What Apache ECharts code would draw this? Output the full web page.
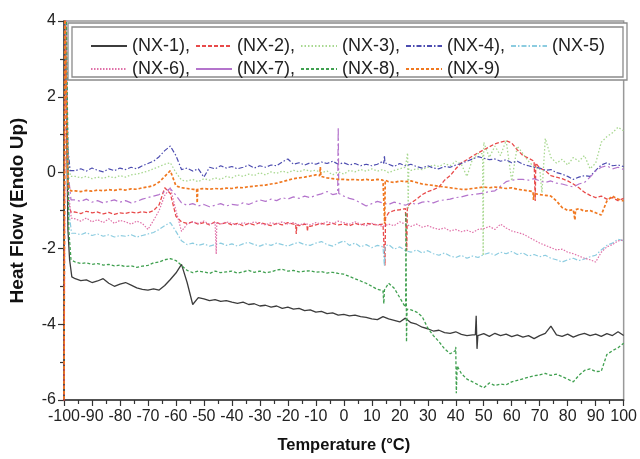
<!DOCTYPE html>
<html>
<head>
<meta charset="utf-8">
<script src="https://cdn.jsdelivr.net/npm/echarts@6/dist/echarts.min.js"></script>
<style>
  html, body { margin: 0; padding: 0; background: #fff; }
  #chart { width: 640px; height: 459px; }
</style>
</head>
<body>
<div id="chart"></div>
<script>
// DSC heat-flow curves, sampled every 2 °C from -96 °C to 100 °C.
const T_START = -96;
const T_STEP = 2;

const seriesNames = ['(NX-1)', '(NX-2)', '(NX-3)', '(NX-4)', '(NX-5)', '(NX-6)', '(NX-7)', '(NX-8)', '(NX-9)'];
const xTicks = [-100, 100, 10];
const yTicks = [-6, 4, 2];

// ---- NX-1 ----
const nx1Lead = [[-99.6, 4.5], [-98.6, -1.5], [-98.0, -2.3], [-97.2, -2.75]];
const nx1Base = [
  -2.80, -2.85, -2.83, -2.90, -2.86, -2.80, -2.92, -3.00, -2.94, -2.90,
  -2.97, -3.04, -3.08, -3.10, -3.07, -3.10, -2.98, -2.82, -2.65, -2.42,
  -2.90, -3.48, -3.30, -3.33, -3.38, -3.35, -3.40, -3.38, -3.42, -3.45,
  -3.42, -3.48, -3.46, -3.52, -3.50, -3.55, -3.52, -3.58, -3.55, -3.60,
  -3.58, -3.64, -3.62, -3.68, -3.66, -3.72, -3.70, -3.76, -3.74, -3.78,
  -3.76, -3.80, -3.82, -3.86, -3.88, -3.80, -3.86, -3.90, -3.94, -3.84,
  -3.96, -4.00, -4.08, -4.12, -4.18, -4.16, -4.22, -4.24, -4.20, -4.27,
  -4.30, -4.28, -4.30, -4.25, -4.32, -4.24, -4.30, -4.26, -4.33, -4.28,
  -4.34, -4.30, -4.38, -4.30, -4.24, -4.05, -4.28, -4.32, -4.26, -4.34,
  -4.28, -4.24, -4.30, -4.26, -4.32, -4.25, -4.30, -4.20, -4.30
];
const nx1Spikes = [[47.0, -4.28], [47.3, -3.78], [47.6, -4.65], [47.9, -4.30]];

// ---- NX-2 ----
const nx2Lead = [[-100, -6.5], [-99.5, 4.5], [-98.5, -0.8], [-97.5, -1.04]];
const nx2Base = [
  -1.04, -1.08, -1.02, -1.06, -1.04, -1.09, -1.05, -1.10, -1.06, -1.08,
  -1.04, -1.07, -1.03, -1.06, -1.00, -0.85, -0.40, -0.55, -1.15, -1.30,
  -1.34, -1.30, -1.36, -1.32, -1.38, -1.30, -1.36, -1.32, -1.38, -1.34,
  -1.40, -1.34, -1.38, -1.32, -1.36, -1.40, -1.34, -1.38, -1.32, -1.36,
  -1.40, -1.36, -1.42, -1.38, -1.34, -1.38, -1.34, -1.38, -1.36, -1.40,
  -1.34, -1.38, -1.34, -1.36, -1.38, -1.36, -1.06, -1.00, -0.98, -0.95,
  -0.80, -0.70, -0.58, -0.50, -0.45, -0.38, -0.20, -0.08, 0.10, 0.26,
  0.34, 0.44, 0.52, 0.60, 0.68, 0.76, 0.80, 0.84, 0.78, 0.60,
  0.45, 0.38, 0.30, 0.12, 0.05, -0.08, -0.12, -0.16, -0.22, -0.30,
  -0.40, -0.52, -0.60, -0.66, -0.62, -0.70, -0.66, -0.74, -0.68
];
const nx2Spikes = [
  [-17.2, -1.36], [-17.0, -1.62], [-16.8, -1.38],
  [-13.2, -1.38], [-13.0, -1.55], [-12.8, -1.40],
  [14.5, -1.36], [14.7, -2.45], [14.9, -1.20],
  [22.3, -0.95], [22.5, -2.06], [22.7, -0.90],
  [68.2, 0.32], [68.4, -0.75], [68.6, 0.25]
];

// ---- NX-3 ----
const nx3Lead = [[-99.7, 4.5], [-98.7, 0.5], [-97.7, -0.1]];
const nx3Base = [
  -0.10, -0.14, -0.10, -0.16, -0.12, -0.15, -0.10, -0.14, -0.08, -0.12,
  -0.06, -0.04, 0.00, 0.04, 0.10, 0.16, 0.22, 0.26, 0.00, -0.20,
  -0.22, -0.18, -0.24, -0.16, -0.20, -0.14, -0.18, -0.10, -0.14, -0.06,
  -0.10, -0.04, -0.08, 0.00, -0.06, 0.02, -0.02, 0.04, 0.00, 0.06,
  0.02, 0.08, 0.04, 0.06, 0.00, 0.04, -0.06, 0.02, -0.04, 0.06,
  0.02, 0.08, 0.04, 0.10, 0.04, 0.08, 0.00, 0.06, 0.10, 0.14,
  0.06, 0.10, 0.08, 0.14, 0.20, 0.16, 0.24, 0.18, 0.30, 0.22,
  -0.10, 0.36, 0.50, 0.80, 0.40, 0.70, 0.45, 0.85, -0.22, 0.70,
  0.50, 0.30, 0.15, 0.10, 0.90, 0.40, 0.25, 0.35, 0.20, 0.40,
  0.30, 0.45, 0.10, 0.25, 0.80, 0.95, 1.05, 1.20, 1.10
];
const nx3Spikes = [
  [22.7, 0.14], [22.8, 0.52], [23.0, -0.97], [23.2, 0.10],
  [49.6, 0.50], [49.8, -2.19], [50.0, 0.80],
  [70.8, -0.53]
];

// ---- NX-4 ----
const nx4Lead = [[-99.8, 4.5], [-98.8, 0.8], [-97.8, 0.05]];
const nx4Base = [
  0.05, 0.10, 0.04, 0.12, 0.06, 0.02, 0.10, 0.05, 0.12, 0.08,
  0.14, 0.10, 0.18, 0.24, 0.30, 0.42, 0.58, 0.70, 0.45, 0.08,
  0.12, 0.04, 0.10, -0.12, 0.14, 0.10, 0.18, 0.12, 0.16, 0.10,
  0.14, 0.20, 0.12, 0.18, 0.14, 0.20, 0.18, 0.28, 0.36, 0.22,
  0.26, 0.20, 0.26, 0.22, 0.28, 0.24, 0.30, 0.22, 0.26, 0.20,
  0.24, 0.18, 0.22, 0.18, 0.22, 0.30, 0.22, 0.16, 0.24, 0.18,
  0.22, 0.16, 0.12, 0.18, 0.12, 0.10, 0.16, 0.14, 0.20, 0.24,
  0.30, 0.36, 0.42, 0.38, 0.34, 0.36, 0.30, 0.34, 0.26, 0.30,
  0.22, 0.18, 0.14, 0.12, 0.06, 0.08, 0.00, -0.04, -0.10, -0.18,
  -0.12, -0.08, -0.10, 0.06, 0.20, 0.26, 0.18, 0.20, 0.16
];
const nx4Spikes = [[14.3, 0.24], [14.5, 0.45], [14.7, 0.26]];

// ---- NX-5 ----
const nx5Lead = [[-99.3, 4.5], [-98.3, -1.0], [-97.3, -1.6]];
const nx5Base = [
  -1.60, -1.64, -1.58, -1.66, -1.62, -1.68, -1.64, -1.70, -1.66, -1.68,
  -1.64, -1.70, -1.66, -1.62, -1.58, -1.50, -1.40, -1.32, -1.55, -1.80,
  -1.90, -1.86, -1.92, -1.88, -1.94, -1.90, -1.86, -1.92, -1.88, -1.94,
  -1.88, -1.84, -1.90, -1.94, -1.88, -1.92, -1.86, -1.90, -1.94, -1.88,
  -1.84, -1.90, -1.92, -1.86, -1.82, -1.90, -1.94, -1.86, -1.80, -1.92,
  -1.86, -1.96, -1.90, -1.98, -1.92, -1.96, -1.90, -2.02, -1.96, -2.06,
  -2.10, -2.04, -2.12, -2.06, -2.14, -2.18, -2.12, -2.20, -2.24, -2.18,
  -2.26, -2.20, -2.24, -2.16, -2.12, -2.18, -2.10, -2.14, -2.08, -2.16,
  -2.12, -2.20, -2.16, -2.22, -2.18, -2.26, -2.30, -2.36, -2.30, -2.26,
  -2.32, -2.28, -2.22, -2.18, -2.04, -1.92, -1.86, -1.76, -1.80
];
const nx5Spikes = [[14.3, -1.96], [14.5, -2.46], [14.7, -1.94]];

// ---- NX-6 ----
const nx6Lead = [[-99.4, 4.5], [-98.4, -0.5], [-97.4, -1.2]];
const nx6Base = [
  -1.22, -1.28, -1.20, -1.30, -1.24, -1.32, -1.22, -1.34, -1.26, -1.30,
  -1.36, -1.28, -1.34, -1.50, -1.26, -1.00, -0.60, -0.40, -1.00, -1.55,
  -1.36, -1.30, -1.34, -1.28, -1.36, -1.32, -1.36, -1.30, -1.34, -1.38,
  -1.32, -1.36, -1.30, -1.34, -1.38, -1.32, -1.36, -1.30, -1.36, -1.32,
  -1.38, -1.34, -1.38, -1.32, -1.36, -1.30, -1.34, -1.28, -1.32, -1.36,
  -1.30, -1.36, -1.40, -1.34, -1.38, -1.42, -1.36, -1.40, -1.30, -1.36,
  -1.42, -1.36, -1.44, -1.40, -1.46, -1.50, -1.46, -1.54, -1.50, -1.56,
  -1.52, -1.58, -1.50, -1.48, -1.42, -1.50, -1.36, -1.46, -1.54, -1.58,
  -1.62, -1.70, -1.78, -1.86, -1.92, -1.98, -2.04, -2.02, -2.10, -2.14,
  -2.20, -2.26, -2.30, -2.36, -2.10, -1.96, -1.90, -1.80, -1.78
];
const nx6Spikes = [[-45.8, -1.32], [-45.6, -2.15], [-45.4, -1.32]];

// ---- NX-7 ----
const nx7Lead = [[-99.5, 4.5], [-98.5, 0.0], [-97.5, -0.72]];
const nx7Base = [
  -0.72, -0.76, -0.70, -0.78, -0.74, -0.80, -0.76, -0.72, -0.78, -0.74,
  -0.80, -0.76, -0.70, -0.66, -0.62, -0.58, -0.50, -0.42, -0.60, -0.80,
  -0.86, -0.82, -0.88, -0.84, -0.90, -0.86, -0.82, -0.88, -0.84, -0.86,
  -0.80, -0.84, -0.78, -0.72, -0.76, -0.70, -0.74, -0.66, -0.70, -0.64,
  -0.68, -0.62, -0.66, -0.60, -0.56, -0.50, -0.58, -0.55, -0.62, -0.68,
  -0.72, -0.80, -0.88, -0.82, -0.76, -0.80, -0.84, -0.78, -0.82, -0.86,
  -0.80, -0.84, -0.78, -0.76, -0.80, -0.74, -0.72, -0.70, -0.66, -0.64,
  -0.60, -0.58, -0.56, -0.54, -0.50, -0.48, -0.36, -0.24, -0.20, -0.18,
  -0.18, -0.20, -0.16, -0.22, -0.26, -0.22, -0.28, -0.30, -0.34, -0.38,
  -0.30, -0.26, -0.12, 0.04, 0.14, 0.18, 0.10, 0.14, 0.08
];
const nx7Spikes = [[-2.2, -0.55], [-2.0, 1.20], [-1.8, -0.55]];

// ---- NX-8 ----
const nx8Lead = [[-99.2, 4.5], [-98.3, -1.5], [-97.5, -2.3]];
const nx8Base = [
  -2.36, -2.40, -2.38, -2.42, -2.40, -2.44, -2.42, -2.46, -2.44, -2.48,
  -2.46, -2.50, -2.47, -2.45, -2.38, -2.36, -2.30, -2.27, -2.32, -2.45,
  -2.58, -2.64, -2.60, -2.62, -2.66, -2.60, -2.64, -2.62, -2.60, -2.65,
  -2.62, -2.58, -2.63, -2.60, -2.64, -2.62, -2.57, -2.55, -2.60, -2.58,
  -2.62, -2.60, -2.59, -2.63, -2.61, -2.65, -2.63, -2.66, -2.68, -2.74,
  -2.80, -2.86, -2.92, -3.00, -3.08, -3.12, -2.92, -3.05, -3.30, -3.55,
  -3.62, -3.68, -3.80, -4.10, -4.30, -4.46, -4.65, -4.78, -4.70, -5.30,
  -5.45, -5.52, -5.60, -5.68, -5.55, -5.62, -5.58, -5.60, -5.52, -5.48,
  -5.44, -5.40, -5.36, -5.34, -5.30, -5.35, -5.32, -5.38, -5.45, -5.52,
  -5.35, -5.22, -5.18, -5.25, -5.24, -4.80, -4.70, -4.62, -4.50
];
const nx8Spikes = [
  [14.1, -3.15], [14.3, -3.46], [14.5, -3.10],
  [22.1, -3.45], [22.2, -1.05], [22.4, -4.47], [22.6, -3.60],
  [39.8, -4.70], [40.0, -4.60], [40.2, -5.82], [40.5, -5.10]
];

// ---- NX-9 ----
const nx9Lead = [[-100, -6.5], [-99.7, 4.5], [-98.6, -0.3], [-97.6, -0.48]];
const nx9Base = [
  -0.48, -0.50, -0.47, -0.49, -0.46, -0.48, -0.45, -0.47, -0.44, -0.46,
  -0.43, -0.44, -0.40, -0.38, -0.34, -0.25, -0.10, 0.05, -0.35, -0.40,
  -0.42, -0.44, -0.44, -0.42, -0.44, -0.42, -0.43, -0.41, -0.42, -0.39,
  -0.40, -0.37, -0.36, -0.34, -0.33, -0.30, -0.28, -0.24, -0.20, -0.16,
  -0.14, -0.12, -0.09, -0.06, -0.10, -0.14, -0.16, -0.18, -0.18, -0.19,
  -0.18, -0.20, -0.18, -0.20, -0.18, -0.20, -0.24, -0.26, -0.22, -0.24,
  -0.22, -0.26, -0.30, -0.32, -0.34, -0.36, -0.38, -0.40, -0.42, -0.44,
  -0.44, -0.42, -0.40, -0.38, -0.40, -0.38, -0.40, -0.42, -0.40, -0.44,
  -0.46, -0.48, -0.55, -0.58, -0.60, -0.62, -0.75, -0.92, -1.00, -0.98,
  -0.95, -1.02, -1.00, -1.06, -1.12, -0.75, -0.62, -0.70, -0.75
];
const nx9Spikes = [
  [-52.6, -0.44], [-52.4, -0.80], [-52.2, -0.44],
  [-8.6, -0.08], [-8.4, 0.15], [-8.2, -0.10],
  [14.4, -0.20], [14.6, -1.35], [14.8, -0.20],
  [67.6, -0.50], [67.8, -0.72], [68.0, -0.55],
  [82.4, -0.98], [82.6, -1.25], [82.8, -0.98]
];

// Merge lead-in, regular samples and sharp events into one ordered curve.
function buildCurve(lead, base, spikes) {
  const pts = lead.concat(base.map((v, i) => [T_START + T_STEP * i, v]), spikes);
  pts.sort((a, b) => a[0] - b[0]);
  return pts;
}

const curves = [
  buildCurve(nx1Lead, nx1Base, nx1Spikes),
  buildCurve(nx2Lead, nx2Base, nx2Spikes),
  buildCurve(nx3Lead, nx3Base, nx3Spikes),
  buildCurve(nx4Lead, nx4Base, nx4Spikes),
  buildCurve(nx5Lead, nx5Base, nx5Spikes),
  buildCurve(nx6Lead, nx6Base, nx6Spikes),
  buildCurve(nx7Lead, nx7Base, nx7Spikes),
  buildCurve(nx8Lead, nx8Base, nx8Spikes),
  buildCurve(nx9Lead, nx9Base, nx9Spikes)
];

const styles = [
  { color: '#3c3c3c', type: 'solid', width: 1.3 },
  { color: '#e84a4a', type: [4, 2], width: 1.3 },
  { color: '#a8d890', type: [1.5, 2], width: 1.3 },
  { color: '#4c4cb0', type: [5, 2, 1.5, 2], width: 1.2 },
  { color: '#8ccce0', type: [5, 2, 1.5, 2], width: 1.2 },
  { color: '#e070a8', type: [1.5, 1.5], width: 1.2 },
  { color: '#b474cc', type: [7, 3, 2, 3], width: 1.2 },
  { color: '#40a050', type: [3, 2], width: 1.3 },
  { color: '#f07820', type: [3, 2], width: 1.7 }
];

const chart = echarts.init(document.getElementById('chart'), null, { renderer: 'canvas' });

const FONT = 'Liberation Sans, Arial, sans-serif';
const legendText = { fontFamily: FONT, fontSize: 18, color: '#222' };
const withComma = name => (name === '(NX-5)' || name === '(NX-9)') ? name : name + ',';
const legendCommon = {
  left: 90, orient: 'horizontal', padding: 0,
  itemWidth: 36, itemHeight: 14, itemGap: 5,
  itemStyle: { opacity: 0 },
  textStyle: legendText, formatter: withComma, z: 60
};

chart.setOption({
  animation: false,
  backgroundColor: '#ffffff',
  grid: {
    left: 62, right: 14, top: 21, bottom: 57,
    show: true, borderColor: '#999', borderWidth: 1.5, backgroundColor: 'transparent'
  },
  graphic: [
    { type: 'rect', shape: { x: 68, y: 23, width: 559, height: 57 },
      style: { fill: '#fff', stroke: '#8a8a8a', lineWidth: 1.3 }, z: 50 },
    { type: 'rect', shape: { x: 72, y: 27, width: 551, height: 50 },
      style: { fill: 'none', stroke: '#8a8a8a', lineWidth: 1.3 }, z: 51 }
  ],
  legend: [
    Object.assign({}, legendCommon, { top: 37, data: seriesNames.slice(0, 5) }),
    Object.assign({}, legendCommon, {
      top: 60,
      data: seriesNames.slice(5).map(n => n === '(NX-7)' ? { name: n, lineStyle: { type: 'solid' } } : n)
    })
  ],
  xAxis: {
    type: 'value',
    min: xTicks[0], max: xTicks[1], interval: xTicks[2],
    name: 'Temperature (°C)', nameLocation: 'middle', nameGap: 37,
    nameTextStyle: { fontFamily: FONT, fontSize: 16.5, fontWeight: 'bold', color: '#111' },
    axisLine: { onZero: false, lineStyle: { color: '#333', width: 1.5 } },
    axisTick: { length: 6, lineStyle: { color: '#333', width: 1.2 } },
    minorTick: { show: true, splitNumber: 2, length: 4, lineStyle: { color: '#333', width: 1.2 } },
    axisLabel: { fontFamily: FONT, fontSize: 16, color: '#222', margin: 9 },
    splitLine: { show: false }
  },
  yAxis: {
    type: 'value',
    min: yTicks[0], max: yTicks[1], interval: yTicks[2],
    name: 'Heat Flow (Endo Up)', nameLocation: 'middle', nameGap: 37, nameRotate: 90,
    nameTextStyle: { fontFamily: FONT, fontSize: 19, fontWeight: 'bold', color: '#111' },
    axisLine: { onZero: false, lineStyle: { color: '#333', width: 1.5 } },
    axisTick: { length: 6, lineStyle: { color: '#333', width: 1.2 } },
    minorTick: { show: true, splitNumber: 2, length: 4, lineStyle: { color: '#333', width: 1.2 } },
    axisLabel: { fontFamily: FONT, fontSize: 16, color: '#222', margin: 8 },
    splitLine: { show: false }
  },
  series: curves.map((data, i) => ({
    name: seriesNames[i],
    type: 'line',
    data: data,
    symbol: 'none',
    clip: true,
    smooth: false,
    color: styles[i].color,
    lineStyle: { color: styles[i].color, type: styles[i].type, width: styles[i].width },
    z: 2 + i
  }))
});
</script>
</body>
</html>
